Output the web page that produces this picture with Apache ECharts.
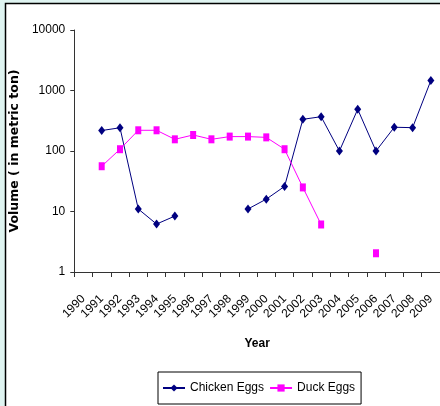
<!DOCTYPE html>
<html>
<head>
<meta charset="utf-8">
<script src="https://cdn.jsdelivr.net/npm/echarts@6/dist/echarts.min.js"></script>
<style>
  html, body { margin: 0; padding: 0; background: #dff4f1; }
  #chart { width: 440px; height: 406px; }
</style>
</head>
<body>
<div id="chart"></div>
<script>
  // values
  var years = ['1990', '1991', '1992', '1993', '1994', '1995', '1996', '1997', '1998', '1999',
               '2000', '2001', '2002', '2003', '2004', '2005', '2006', '2007', '2008', '2009'];
  var chickenEggs = [null, 218, 242, 11, 6.2, 8.4, null, null, null, 11,
                     16, 26, 334, 369, 100, 489, 100, 247, 243, 1460];
  var duckEggs = [null, 56, 107, 220, 220, 156, 184, 156, 173, 173,
                  168, 107, 25, 6.1, null, null, 2.04, null, null, null];
  var yTicks = [1, 10, 100, 1000, 10000];

  var font = '"Liberation Sans", Arial, sans-serif';

  var chart = echarts.init(document.getElementById('chart'));
  var option = {
    backgroundColor: 'transparent',
    animation: false,
    textStyle: {fontFamily: font},
    graphic: [
      {
        type: 'rect',
        z: -10,
        shape: {x: 5.5, y: 3.5, width: 460, height: 430},
        style: {fill: '#ffffff', stroke: '#000000', lineWidth: 1.5}
      }
    ],
    grid: {
      left: 69,
      top: 30,
      width: 378,
      height: 242
    },
    legend: {
      left: 158,
      top: 372,
      orient: 'horizontal',
      borderColor: '#000',
      borderWidth: 1,
      padding: [10, 6, 10, 4],
      itemWidth: 22,
      itemHeight: 9,
      itemGap: 5,
      textStyle: {fontFamily: font, fontSize: 12, color: '#000'},
      data: ['Chicken Eggs', 'Duck Eggs']
    },
    xAxis: {
      type: 'category',
      data: years,
      boundaryGap: true,
      name: 'Year',
      nameLocation: 'middle',
      nameGap: 66,
      nameTextStyle: {fontFamily: font, fontWeight: 'bold', fontSize: 12, color: '#000'},
      axisLine: {lineStyle: {color: '#333', width: 1}},
      axisTick: {show: true, interval: 0, length: 5, lineStyle: {color: '#333'}},
      axisLabel: {
        interval: 0,
        rotate: 45,
        margin: 25,
        fontFamily: font,
        fontSize: 12,
        color: '#000'
      },
      splitLine: {show: false}
    },
    yAxis: {
      type: 'log',
      logBase: 10,
      min: yTicks[0],
      max: yTicks[yTicks.length - 1],
      name: 'Volume ( in metric ton)',
      nameLocation: 'middle',
      nameGap: 42,
      nameRotate: 90,
      nameTextStyle: {fontFamily: '"DejaVu Sans", sans-serif', fontWeight: 'bold', fontSize: 12.5, color: '#000'},
      axisLine: {show: true, lineStyle: {color: '#333', width: 1}},
      axisTick: {show: true, length: 4, lineStyle: {color: '#333'}},
      axisLabel: {
        margin: 9,
        fontFamily: font,
        fontSize: 12,
        color: '#000',
        formatter: function (v) { return String(v); }
      },
      splitLine: {show: false}
    },
    series: [
      {
        name: 'Chicken Eggs',
        type: 'line',
        data: chickenEggs,
        connectNulls: false,
        symbol: 'diamond',
        symbolSize: [7, 9],
        color: '#000080',
        lineStyle: {width: 1, color: '#000080'},
        itemStyle: {color: '#000080'}
      },
      {
        name: 'Duck Eggs',
        type: 'line',
        data: duckEggs,
        connectNulls: false,
        symbol: 'rect',
        symbolSize: [6, 8],
        color: '#ff00ff',
        lineStyle: {width: 1, color: '#ff00ff'},
        itemStyle: {color: '#ff00ff'}
      }
    ]
  };
  chart.setOption(option);
</script>
</body>
</html>
